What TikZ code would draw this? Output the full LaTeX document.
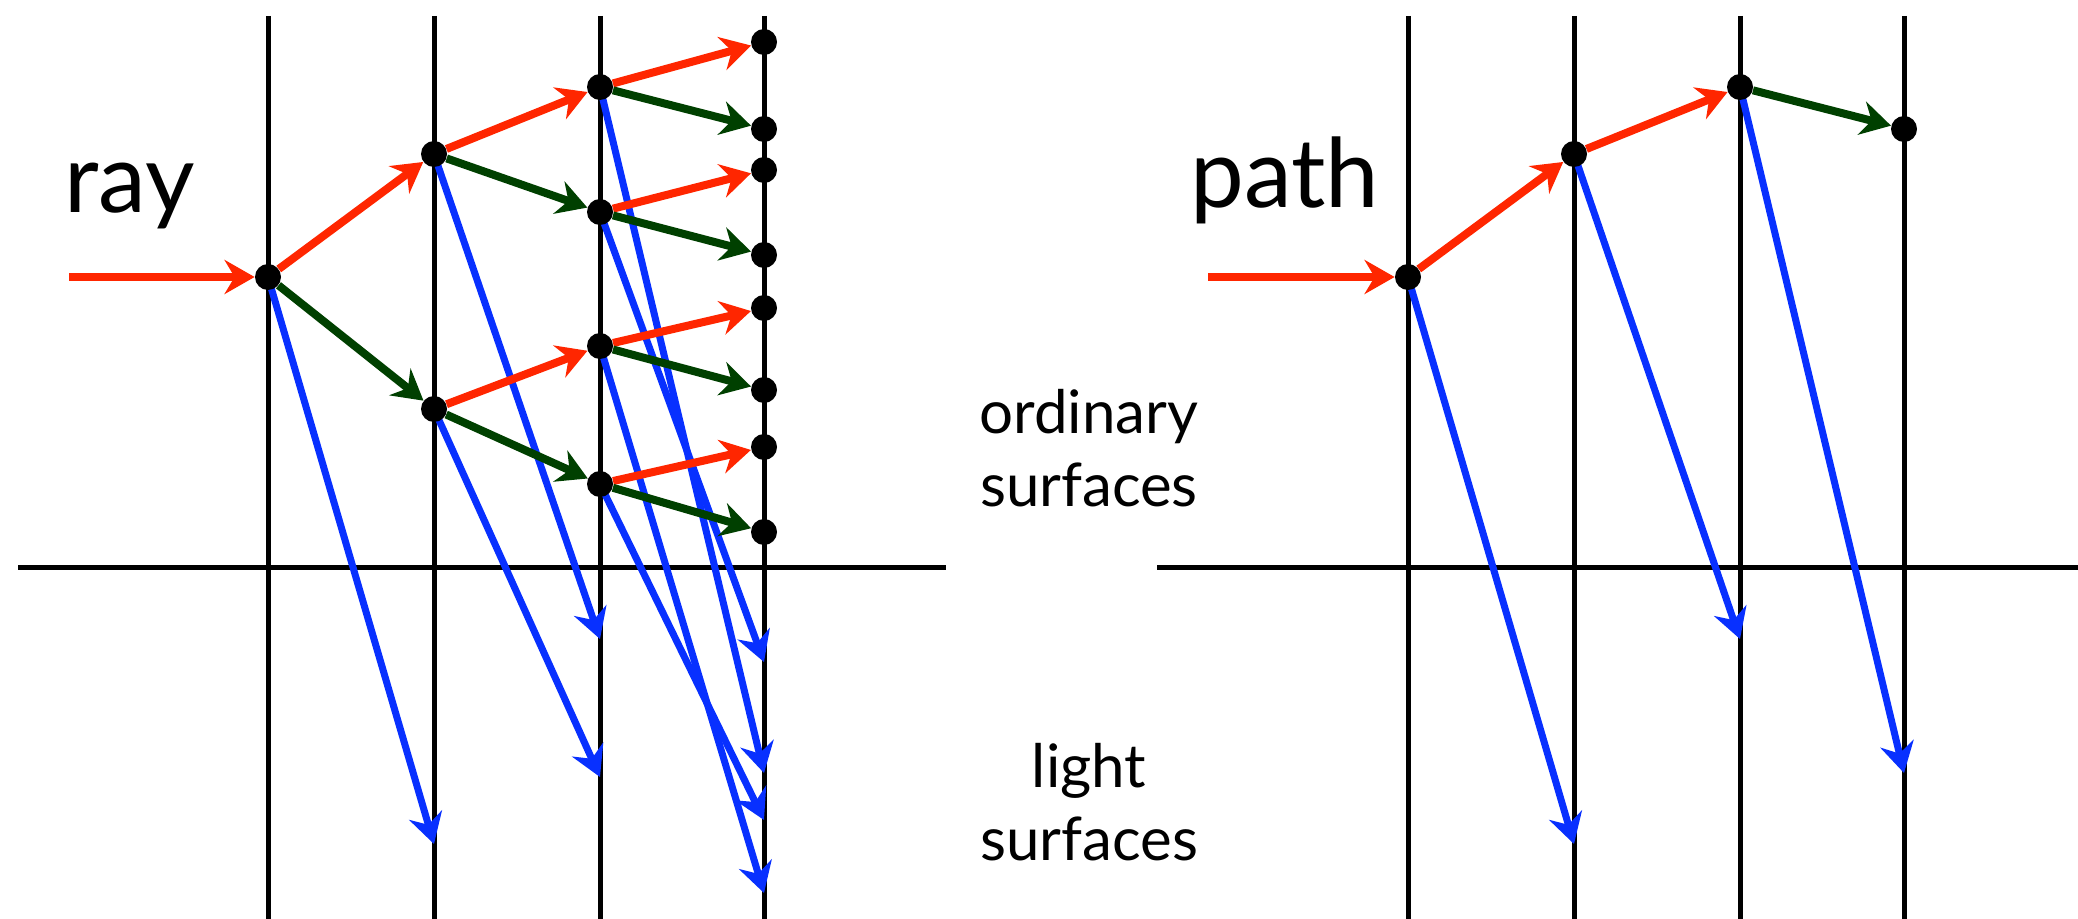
\documentclass[tikz,border=0pt]{standalone}
\usepackage{fontspec}
\setmainfont{Lato}
\usetikzlibrary{arrows.meta}
\definecolor{rayred}{RGB}{255,38,0}
\definecolor{raygreen}{RGB}{0,64,0}
\definecolor{rayblue}{RGB}{8,48,255}
\pgfdeclarelayer{bg}
\pgfsetlayers{bg,main}
\begin{document}
\begin{tikzpicture}[x=0.5pt,y=-0.5pt,
  surf/.style={black,line width=2.5pt},
  dot/.style={circle,fill=black,inner sep=0pt,minimum size=13pt},
  tipped/.style={-{Stealth[length=15pt,width=17pt,inset=5pt]}},
  refl/.style={tipped,rayred,line width=4pt},
  trans/.style={tipped,raygreen,line width=4pt},
  lightray/.style={tipped,rayblue,line width=3.5pt},
  big/.style={font=\fontsize{48pt}{56pt}\selectfont,inner sep=0pt},
  small/.style={font=\fontsize{30pt}{36.5pt}\selectfont,inner sep=0pt,align=center}]
\useasboundingbox (0,0) rectangle (2078,919);

% ---------- left panel: ray ----------
\node[dot] (A)  at (268,277) {};
\node[dot] (B1) at (434,154) {};
\node[dot] (B2) at (434,409) {};
\node[dot] (C1) at (600,87) {};
\node[dot] (C2) at (600,212) {};
\node[dot] (C3) at (600,346) {};
\node[dot] (C4) at (600,484) {};
\node[dot] (D1) at (764,42) {};
\node[dot] (D2) at (764,129) {};
\node[dot] (D3) at (764,170) {};
\node[dot] (D4) at (764,255) {};
\node[dot] (D5) at (764,308) {};
\node[dot] (D6) at (764,390) {};
\node[dot] (D7) at (764,447) {};
\node[dot] (D8) at (764,532) {};
\coordinate (in0) at (69,277);
\coordinate (LA)  at (434,844);
\coordinate (LB1) at (600,639);
\coordinate (LB2) at (600,777);
\coordinate (LC1) at (764,773);
\coordinate (LC2) at (764,662);
\coordinate (LC3) at (764,893);
\coordinate (LC4) at (764,820);

\node[big,anchor=base west] (ray) at (64,213) {ray};

% ---------- right panel: path ----------
\node[dot] (P1) at (1408,277) {};
\node[dot] (P2) at (1574,154) {};
\node[dot] (P3) at (1740,87) {};
\node[dot] (P4) at (1904,129) {};
\coordinate (in1) at (1208,277);
\coordinate (LP1) at (1574,844);
\coordinate (LP2) at (1740,639);
\coordinate (LP3) at (1904,773);

\node[big,anchor=base west] (path) at (1190,208) {path};

% ---------- labels (anchor = baseline of the last line) ----------
\node[small,anchor=base] (ord) at (1089,507) {ordinary\\surfaces};
\node[small,anchor=base] (lig) at (1089,860) {light\\surfaces};

\begin{pgfonlayer}{bg}
  % surfaces
  \foreach \x in {268,434,600,764,1408,1574,1740,1904}
    \draw[surf] (\x,16) -- (\x,919);
  \draw[surf] (18,567) -- (946,567);
  \draw[surf] (1157,567) -- (2078,567);

  % light rays
  \draw[lightray] (A.center) -- (LA);
  \draw[lightray] (B1.center) -- (LB1);
  \draw[lightray] (B2.center) -- (LB2);
  \draw[lightray] (C1.center) -- (LC1);
  \draw[lightray] (C2.center) -- (LC2);
  \draw[lightray] (C3.center) -- (LC3);
  \draw[lightray] (C4.center) -- (LC4);
  \draw[lightray] (P1.center) -- (LP1);
  \draw[lightray] (P2.center) -- (LP2);
  \draw[lightray] (P3.center) -- (LP3);

  % reflected / transmitted
  \draw[refl] (in0) -- (A);
  \draw[refl] (A) -- (B1);
  \draw[trans] (A) -- (B2);
  \draw[refl] (B1) -- (C1);
  \draw[trans] (B1) -- (C2);
  \draw[refl] (B2) -- (C3);
  \draw[trans] (B2) -- (C4);
  \draw[refl] (C1) -- (D1);
  \draw[trans] (C1) -- (D2);
  \draw[refl] (C2) -- (D3);
  \draw[trans] (C2) -- (D4);
  \draw[refl] (C3) -- (D5);
  \draw[trans] (C3) -- (D6);
  \draw[refl] (C4) -- (D7);
  \draw[trans] (C4) -- (D8);

  \draw[refl] (in1) -- (P1);
  \draw[refl] (P1) -- (P2);
  \draw[refl] (P2) -- (P3);
  \draw[trans] (P3) -- (P4);
\end{pgfonlayer}
\end{tikzpicture}
\end{document}
